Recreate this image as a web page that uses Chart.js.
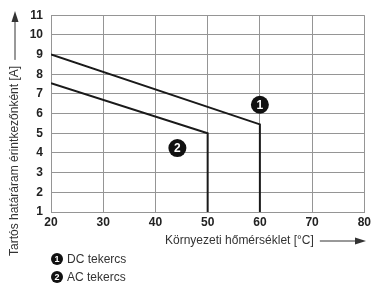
<!DOCTYPE html>
<html>
<head>
<meta charset="utf-8">
<script src="https://cdn.jsdelivr.net/npm/chart.js@4.4.1/dist/chart.umd.min.js"></script>
<style>
html,body{margin:0;padding:0;background:#fff;}
#wrap{width:374px;height:288px;position:relative;}
</style>
</head>
<body>
<div id="wrap"><canvas id="c" width="374" height="288"></canvas></div>
<script>
// Data
const dcTemps = [20, 60, 60];
const dcCurrents = [9, 5.45, 1];
const acTemps = [20, 50, 50];
const acCurrents = [7.55, 5.0, 1];
const seriesNames = ['DC tekercs', 'AC tekercs'];
const markerNumbers = ['1', '2'];
const markerTemps = [60, 44.2];
const markerCurrents = [6.45, 4.25];
const xTitle = 'Környezeti hőmérséklet [°C]';
const yTitle = 'Tartós határáram érintkezőnként [A]';

const toPts = (xs, ys) => xs.map((x, i) => ({x: x, y: ys[i]}));
const FONT = '"Liberation Sans", Arial, sans-serif';

function circleNum(ctx, x, y, r, num, fs) {
  ctx.save();
  ctx.beginPath();
  ctx.arc(x, y, r, 0, Math.PI * 2);
  ctx.fillStyle = '#111';
  ctx.fill();
  ctx.fillStyle = '#fff';
  ctx.font = 'bold ' + fs + 'px ' + FONT;
  ctx.textAlign = 'center';
  ctx.textBaseline = 'middle';
  ctx.fillText(num, x, y + 0.5);
  ctx.restore();
}

const decor = {
  id: 'decor',
  afterDatasetsDraw(chart) {
    const ctx = chart.ctx;
    const xs = chart.scales.x, ys = chart.scales.y;
    markerNumbers.forEach((n, i) => {
      circleNum(ctx, xs.getPixelForValue(markerTemps[i]), ys.getPixelForValue(markerCurrents[i]), 9, n, 12);
    });
  },
  afterDraw(chart) {
    const ctx = chart.ctx;
    ctx.save();
    ctx.fillStyle = '#333';
    ctx.strokeStyle = '#333';
    ctx.font = '12px ' + FONT;
    // x title
    ctx.textAlign = 'left';
    ctx.textBaseline = 'middle';
    const xtX = 165, xtY = 241;
    ctx.fillText(xTitle, xtX, xtY);
    const tw = ctx.measureText(xTitle).width;
    ctx.lineWidth = 1;
    ctx.beginPath();
    ctx.moveTo(xtX + tw + 6, xtY);
    ctx.lineTo(358, xtY);
    ctx.stroke();
    ctx.beginPath();
    ctx.moveTo(366, xtY);
    ctx.lineTo(355, xtY - 3.5);
    ctx.lineTo(355, xtY + 3.5);
    ctx.closePath();
    ctx.fill();
    // y title
    ctx.save();
    ctx.translate(15, 256);
    ctx.rotate(-Math.PI / 2);
    ctx.textAlign = 'left';
    ctx.textBaseline = 'middle';
    ctx.fillText(yTitle, 0, 0);
    const yw = ctx.measureText(yTitle).width;
    ctx.beginPath();
    ctx.moveTo(yw + 6, 0);
    ctx.lineTo(236, 0);
    ctx.stroke();
    ctx.beginPath();
    ctx.moveTo(245, 0);
    ctx.lineTo(234, -3.5);
    ctx.lineTo(234, 3.5);
    ctx.closePath();
    ctx.fill();
    ctx.restore();
    // legend
    seriesNames.forEach((name, i) => {
      const ly = 259 + i * 18;
      circleNum(ctx, 57, ly, 6, markerNumbers[i], 9);
      ctx.fillStyle = '#333';
      ctx.font = '12px ' + FONT;
      ctx.textAlign = 'left';
      ctx.textBaseline = 'middle';
      ctx.fillText(name, 67, ly + 0.5);
    });
    ctx.restore();
  }
};

new Chart(document.getElementById('c'), {
  type: 'line',
  data: {
    datasets: [
      {label: seriesNames[0], data: toPts(dcTemps, dcCurrents), borderColor: '#1a1a1a', borderWidth: 2, pointRadius: 0, fill: false, tension: 0},
      {label: seriesNames[1], data: toPts(acTemps, acCurrents), borderColor: '#1a1a1a', borderWidth: 2, pointRadius: 0, fill: false, tension: 0}
    ]
  },
  options: {
    responsive: false,
    animation: false,
    devicePixelRatio: 1,
    layout: {padding: {left: 0, top: 12, right: 8, bottom: 0}},
    plugins: {legend: {display: false}, tooltip: {enabled: false}},
    scales: {
      x: {
        type: 'linear', min: 20, max: 80,
        ticks: {stepSize: 10, color: '#222', font: {family: FONT, size: 12, weight: 'bold'}, padding: 3, maxRotation: 0},
        grid: {color: '#959595', lineWidth: 1, drawTicks: false},
        border: {color: '#959595'},
        afterFit(s) { s.height = 76; }
      },
      y: {
        min: 1, max: 11,
        ticks: {stepSize: 1, color: '#222', font: {family: FONT, size: 12, weight: 'bold'}, padding: 8},
        grid: {color: '#959595', lineWidth: 1, drawTicks: false},
        border: {color: '#959595'},
        afterFit(s) { s.width = 51; }
      }
    }
  },
  plugins: [decor]
});
</script>
</body>
</html>
